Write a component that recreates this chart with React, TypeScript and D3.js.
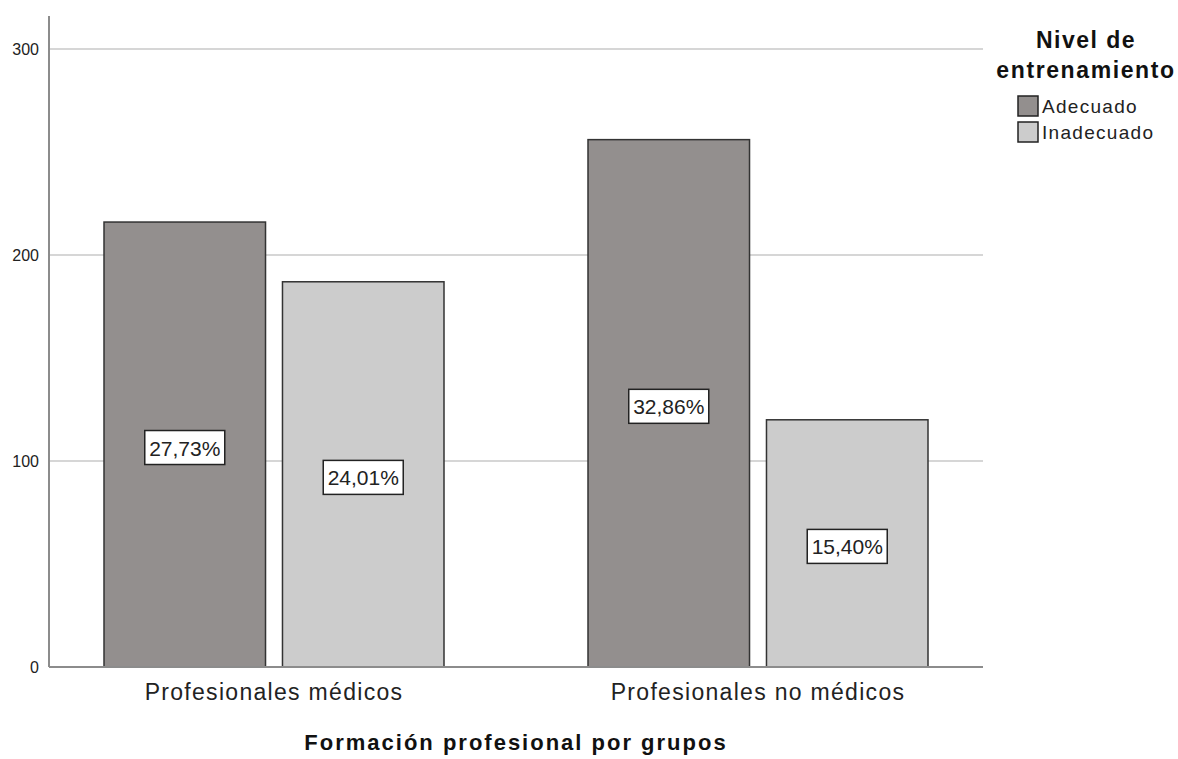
import { useEffect, useRef } from "react"
import * as d3 from "d3"

// datos
const grupos = ["Profesionales médicos", "Profesionales no médicos"]
const niveles = ["Adecuado", "Inadecuado"]
const adecuado = [216, 256]
const inadecuado = [187, 120]
const etiquetas = [["27,73%", "24,01%"], ["32,86%", "15,40%"]]
const yTicks = [0, 100, 200, 300]
const colores = ["#938f8e", "#cccccc"]

export default function App() {
  const svgRef = useRef(null)

  useEffect(() => {
    if (!svgRef.current) return
    document.body.style.margin = "0"
    document.body.style.overflow = "hidden"
    const svg = d3.select(svgRef.current)
    svg.selectAll("*").remove()

    const width = 1178
    const height = 759
    const font = "'Liberation Sans', Arial, sans-serif"
    const left = 49
    const right = 983
    const bottom = 667

    const y = d3.scaleLinear().domain([0, 300]).range([bottom, 49])
    const x0 = d3.scalePoint().domain(grupos).range([274, 758])
    const x1 = d3.scaleBand().domain(niveles).range([-170, 170]).paddingInner(0.095)

    // líneas de cuadrícula
    svg.append("g")
      .selectAll("line")
      .data(yTicks.filter((t) => t > 0))
      .enter()
      .append("line")
      .attr("x1", left)
      .attr("x2", right)
      .attr("y1", (d) => y(d))
      .attr("y2", (d) => y(d))
      .attr("stroke", "#d6d6d6")
      .attr("stroke-width", 2)

    // etiquetas eje Y
    svg.append("g")
      .selectAll("text")
      .data(yTicks)
      .enter()
      .append("text")
      .attr("x", 39)
      .attr("y", (d) => y(d) + 6)
      .attr("text-anchor", "end")
      .attr("font-family", font)
      .attr("font-size", "16px")
      .attr("fill", "#222")
      .text((d) => d)

    const data = []
    grupos.forEach((g, i) => {
      data.push({ grupo: g, nivel: niveles[0], valor: adecuado[i], etiqueta: etiquetas[i][0] })
      data.push({ grupo: g, nivel: niveles[1], valor: inadecuado[i], etiqueta: etiquetas[i][1] })
    })

    const color = d3.scaleOrdinal().domain(niveles).range(colores)

    const barras = svg.append("g")
    barras.selectAll("rect")
      .data(data)
      .enter()
      .append("rect")
      .attr("x", (d) => x0(d.grupo) + x1(d.nivel))
      .attr("y", (d) => y(d.valor))
      .attr("width", x1.bandwidth())
      .attr("height", (d) => bottom - y(d.valor))
      .attr("fill", (d) => color(d.nivel))
      .attr("stroke", "#333")
      .attr("stroke-width", 1.5)

    // etiquetas con recuadro
    const lab = svg.append("g")
      .selectAll("g")
      .data(data)
      .enter()
      .append("g")
      .attr("transform", (d) => `translate(${x0(d.grupo) + x1(d.nivel) + x1.bandwidth() / 2},${(y(d.valor) + bottom) / 2 + 3})`)
    lab.append("rect")
      .attr("x", -40)
      .attr("y", -17)
      .attr("width", 80)
      .attr("height", 34)
      .attr("fill", "white")
      .attr("stroke", "#222")
      .attr("stroke-width", 1.5)
    lab.append("text")
      .attr("text-anchor", "middle")
      .attr("y", 8)
      .attr("font-family", font)
      .attr("font-size", "21px")
      .attr("fill", "#222")
      .text((d) => d.etiqueta)

    // ejes
    svg.append("line")
      .attr("x1", left).attr("x2", left)
      .attr("y1", 16).attr("y2", bottom)
      .attr("stroke", "#8c8c8c").attr("stroke-width", 2)
    svg.append("line")
      .attr("x1", left).attr("x2", right)
      .attr("y1", bottom).attr("y2", bottom)
      .attr("stroke", "#8c8c8c").attr("stroke-width", 2)

    // etiquetas eje X
    svg.append("g")
      .selectAll("text")
      .data(grupos)
      .enter()
      .append("text")
      .attr("x", (d) => x0(d))
      .attr("y", 700)
      .attr("text-anchor", "middle")
      .attr("font-family", font)
      .attr("font-size", "23px")
      .attr("letter-spacing", "1.3px")
      .attr("fill", "#222")
      .text((d) => d)

    svg.append("text")
      .attr("x", (left + right) / 2)
      .attr("y", 750)
      .attr("text-anchor", "middle")
      .attr("font-family", font)
      .attr("font-size", "22px")
      .attr("font-weight", "bold")
      .attr("letter-spacing", "2px")
      .attr("fill", "#111")
      .text("Formación profesional por grupos")

    // leyenda
    const leg = svg.append("g")
    leg.append("text")
      .attr("x", 1086).attr("y", 48)
      .attr("text-anchor", "middle")
      .attr("font-family", font).attr("font-size", "23px").attr("font-weight", "bold")
      .attr("letter-spacing", "1.5px")
      .attr("fill", "#111")
      .text("Nivel de")
    leg.append("text")
      .attr("x", 1086).attr("y", 78)
      .attr("text-anchor", "middle")
      .attr("font-family", font).attr("font-size", "23px").attr("font-weight", "bold")
      .attr("letter-spacing", "1.6px")
      .attr("fill", "#111")
      .text("entrenamiento")
    const items = leg.selectAll("g.item")
      .data(niveles)
      .enter()
      .append("g")
      .attr("transform", (d, i) => `translate(1018,${96 + i * 26})`)
    items.append("rect")
      .attr("width", 20).attr("height", 20)
      .attr("fill", (d) => color(d))
      .attr("stroke", "#222").attr("stroke-width", 1.5)
    items.append("text")
      .attr("x", 24).attr("y", 17)
      .attr("font-family", font).attr("font-size", "19px")
      .attr("letter-spacing", "1.3px")
      .attr("fill", "#222")
      .text((d) => d)

    svg.attr("width", width).attr("height", height).attr("viewBox", [0, 0, width, height])
  }, [])

  return (
    <div style={{ position: "absolute", top: 0, left: 0, background: "white" }}>
      <svg ref={svgRef} style={{ display: "block" }}></svg>
    </div>
  )
}
